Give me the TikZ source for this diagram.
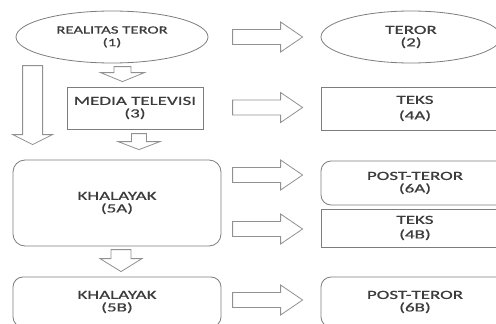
\documentclass[tikz,border=0pt]{standalone}
\usepackage{fontspec}
\setmainfont{Carlito}[FakeStretch=1.52,FakeBold=0.6]
\usetikzlibrary{positioning,calc,shapes.geometric}
\definecolor{BoxGray}{RGB}{125,125,125}
\definecolor{ArrGray}{RGB}{145,145,145}
\definecolor{TextGray}{RGB}{60,60,60}
\tikzset{box/.style={draw=BoxGray,line width=0.8pt,fill=white,text=TextGray,align=center,inner sep=2pt,font=\fontsize{12.5}{12.5}\selectfont},
oval/.style={box,ellipse}, rbox/.style={box,rounded corners=10pt},
blk/.style={draw=ArrGray,line width=0.8pt,fill=white,line join=miter},
pics/rblk/.style={code={\draw[blk] (-70,-7.5) -- (-22,-7.5) -- (-22,-15) -- (0,0) -- (-22,15) -- (-22,7.5) -- (-70,7.5) -- cycle;}},
pics/dblk/.style n args={4}{code={\draw[blk] (-#1,-#4) -- (#1,-#4) -- (#1,-#3) -- (#2,-#3) -- (0,0) -- (-#2,-#3) -- (-#1,-#3) -- cycle;}}}

\begin{document}
\begin{tikzpicture}[x=1pt,y=-1pt]
\path[use as bounding box] (0,0) rectangle (496,324);
\clip (0,0) rectangle (496,324);
\node[oval,minimum width=192pt,minimum height=52pt,font=\fontsize{11}{12.5}\selectfont] (real) at (112,37) {REALITAS TEROR\\(1)};
\node[oval,minimum width=180pt,minimum height=52pt] (teror) at (411,37) {TEROR\\(2)};
\node[box,minimum width=136pt,minimum height=42pt] (media) at (135,108) {MEDIA TELEVISI\\(3)};
\node[box,minimum width=188pt,minimum height=43pt] (teks4a) at (415,108.5) {TEKS\\[3pt](4A)};
\node[rbox,rounded corners=12pt,minimum width=208pt,minimum height=86pt] (kh5a) at (117,203) {KHALAYAK\\(5A)};
\node[rbox,minimum width=188pt,minimum height=44pt] (post6a) at (415,183) {POST-TEROR\\(6A)};
\node[box,minimum width=188pt,minimum height=38pt] (teks4b) at (415,228) {TEKS\\[2pt](4B)};
\node[rbox,minimum width=208pt,minimum height=50pt] (kh5b) at (117,302) {KHALAYAK\\(5B)};
\node[rbox,minimum width=188pt,minimum height=50pt] (post6b) at (415,302) {POST-TEROR\\(6B)};
% block arrows to the right
\pic at ($(teror.west)+(-18,0)$) {rblk};
\pic at ($(teks4a.west)+(-18,-1)$) {rblk};
\pic at ($(post6a.west)+(-18,-8)$) {rblk};
\pic at ($(teks4b.west)+(-18,1)$) {rblk};
\pic at ($(post6b.west)+(-18,-2)$) {rblk};
% block arrows downwards
\pic at ($(media.north)+(-12.5,-5)$) {dblk={8.5}{22}{9}{15}};
\pic at ($(kh5a.north)+(22,-10)$) {dblk={7.5}{21}{8}{16}};
\pic at ($(kh5b.north)+(4,-5)$) {dblk={10}{21}{13}{22}};
\pic at ($(kh5a.north west)+(20,-15)$) {dblk={10}{20}{10}{79}};
\end{tikzpicture}
\end{document}
